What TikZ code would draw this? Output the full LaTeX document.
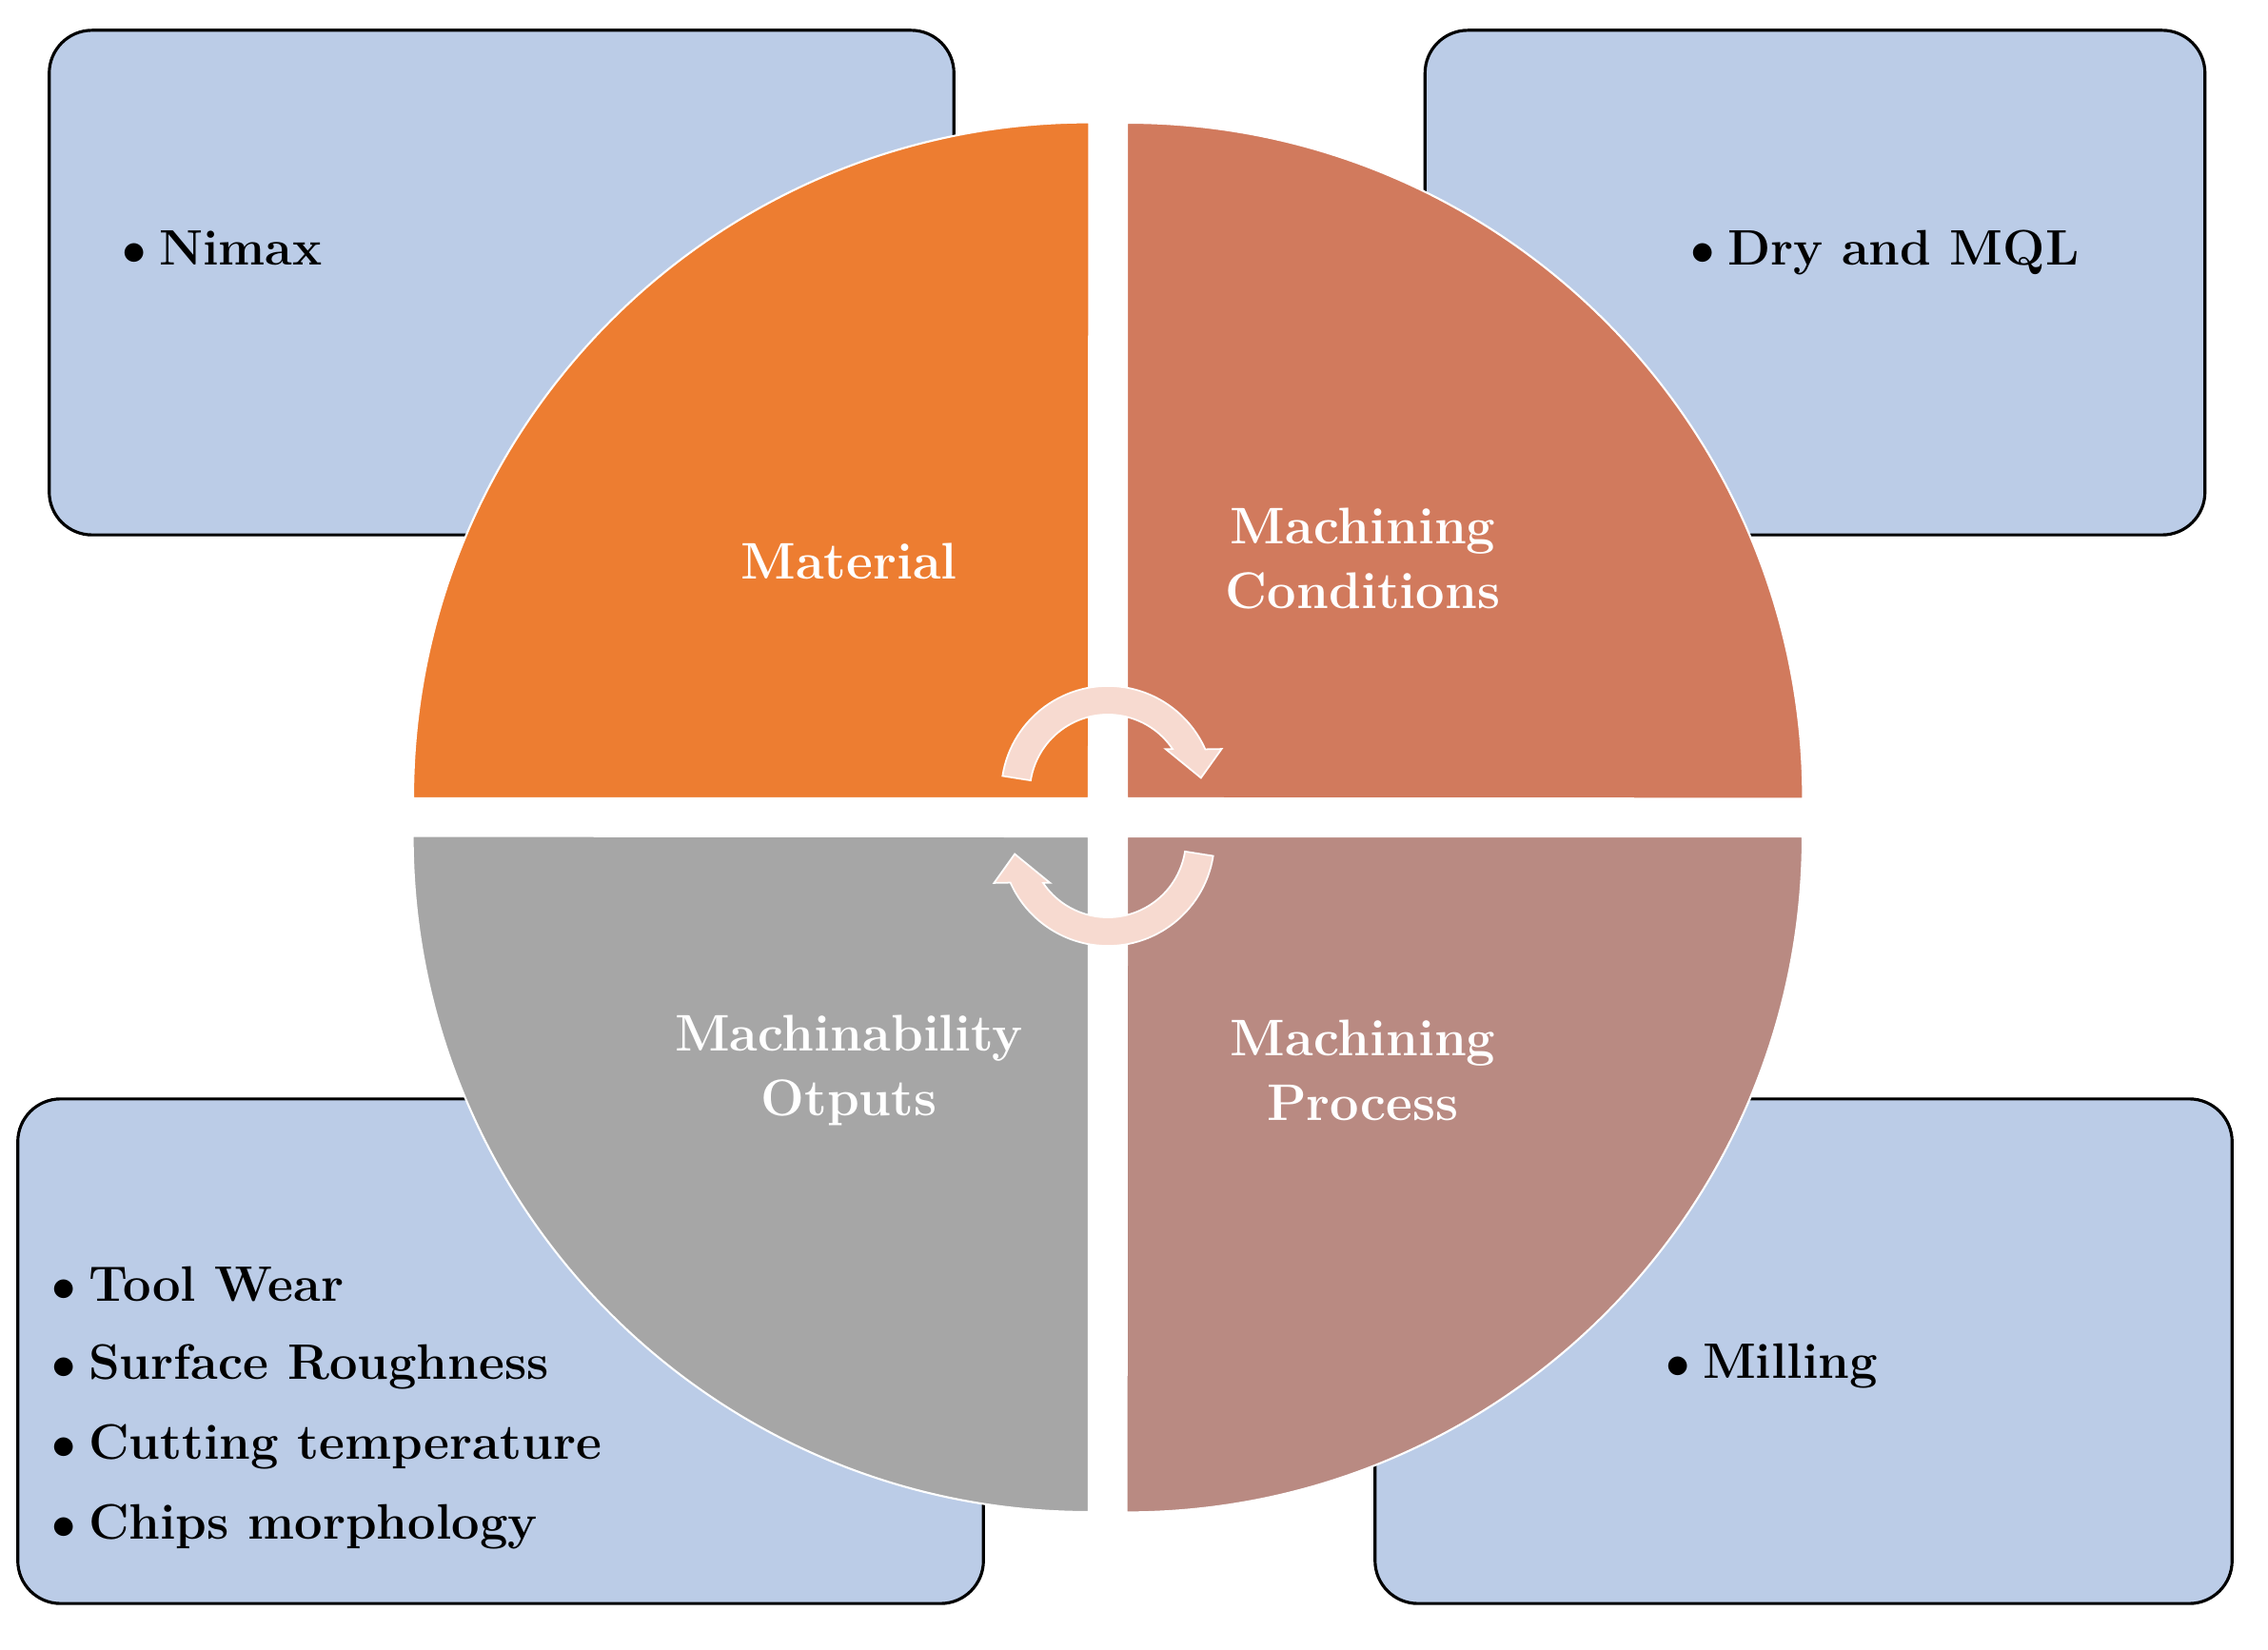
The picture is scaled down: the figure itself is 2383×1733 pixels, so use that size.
\documentclass[tikz,border=0pt]{standalone}
\usetikzlibrary{calc}
\definecolor{boxblue}{RGB}{187,204,231}
\definecolor{qorange}{RGB}{237,125,49}
\definecolor{qterra}{RGB}{209,122,93}
\definecolor{qgray}{RGB}{166,166,166}
\definecolor{qrose}{RGB}{185,138,130}
\definecolor{cycpink}{RGB}{247,218,208}
\begin{document}
\begin{tikzpicture}[x=0.01cm,y=0.01cm,
  infobox/.style={draw=black, line width=0.9pt, fill=boxblue, rounded corners=0.45cm, inner sep=0pt, minimum height=5.3cm},
  quad/.style={draw=white, line width=0.6pt},
  cyc/.style={fill=cycpink, draw=white, line width=0.5pt, line join=miter},
  qlabel/.style={text=white, align=center, inner sep=0pt, font=\fontsize{15.4}{19.3}\selectfont\bfseries},
  item/.style={anchor=base west, inner sep=0pt, font=\fontsize{14.9}{20}\selectfont\bfseries}]
\useasboundingbox (0,0) rectangle (2383,1733);

% boxes
\node[infobox, minimum width=9.5cm] (btl) at (527,1436) {};
\node[infobox, minimum width=8.19cm] (btr) at (1907,1436) {};
\node[infobox, minimum width=10.14cm] (bbl) at (526,313) {};
\node[infobox, minimum width=9.0cm] (bbr) at (1895,313) {};

% quadrants
\filldraw[quad, fill=qorange] (1144,894) -- (434,894) arc[start angle=180, end angle=90, radius=7.1cm] -- cycle;
\filldraw[quad, fill=qterra] (1184,894) -- (1184,1604) arc[start angle=90, end angle=0, radius=7.1cm] -- cycle;
\filldraw[quad, fill=qgray] (1144,854) -- (1144,144) arc[start angle=270, end angle=180, radius=7.1cm] -- cycle;
\filldraw[quad, fill=qrose] (1184,854) -- (1894,854) arc[start angle=0, end angle=-90, radius=7.1cm] -- cycle;

% cycle arrows
\coordinate (c1) at (1164,900);
\coordinate (c2) at (1164,851);
\filldraw[cyc] ($(c1)+(171:1.12cm)$) arc[start angle=171, end angle=24, radius=1.12cm]
  -- ($(c1)+(21:1.28cm)$) -- ($(c1)+(9:0.99cm)$) -- ($(c1)+(37:0.76cm)$)
  -- ($(c1)+(34:0.82cm)$) arc[start angle=34, end angle=171, radius=0.82cm] -- cycle;
\filldraw[cyc] ($(c2)+(-9:1.12cm)$) arc[start angle=-9, end angle=-156, radius=1.12cm]
  -- ($(c2)+(-159:1.28cm)$) -- ($(c2)+(-171:0.99cm)$) -- ($(c2)+(-143:0.76cm)$)
  -- ($(c2)+(-146:0.82cm)$) arc[start angle=-146, end angle=-9, radius=0.82cm] -- cycle;

% quadrant labels
\node[qlabel] (mat) at (892,1143) {Material};
\node[qlabel] (cond) at (1432,1146) {Machining\\Conditions};
\node[qlabel] (outp) at (892,608) {Machinability\\Otputs};
\node[qlabel] (proc) at (1432,608) {Machining\\Process};

% bullet texts
\node[item] (nimax) at (128,1454) {$\bullet$\hspace{3.7pt}Nimax};
\node[item] (dry) at (1776,1454) {$\bullet$\hspace{3.7pt}Dry and MQL};
\node[item] (mill) at (1750,285) {$\bullet$\hspace{3.7pt}Milling};
\node[item] (tw) at (54,366) {$\bullet$\hspace{3.7pt}Tool Wear};
\node[item] (sr) at (54,284) {$\bullet$\hspace{3.7pt}Surface Roughness};
\node[item] (ct) at (54,200) {$\bullet$\hspace{3.7pt}Cutting temperature};
\node[item] (cm) at (54,116) {$\bullet$\hspace{3.7pt}Chips morphology};
\end{tikzpicture}
\end{document}
